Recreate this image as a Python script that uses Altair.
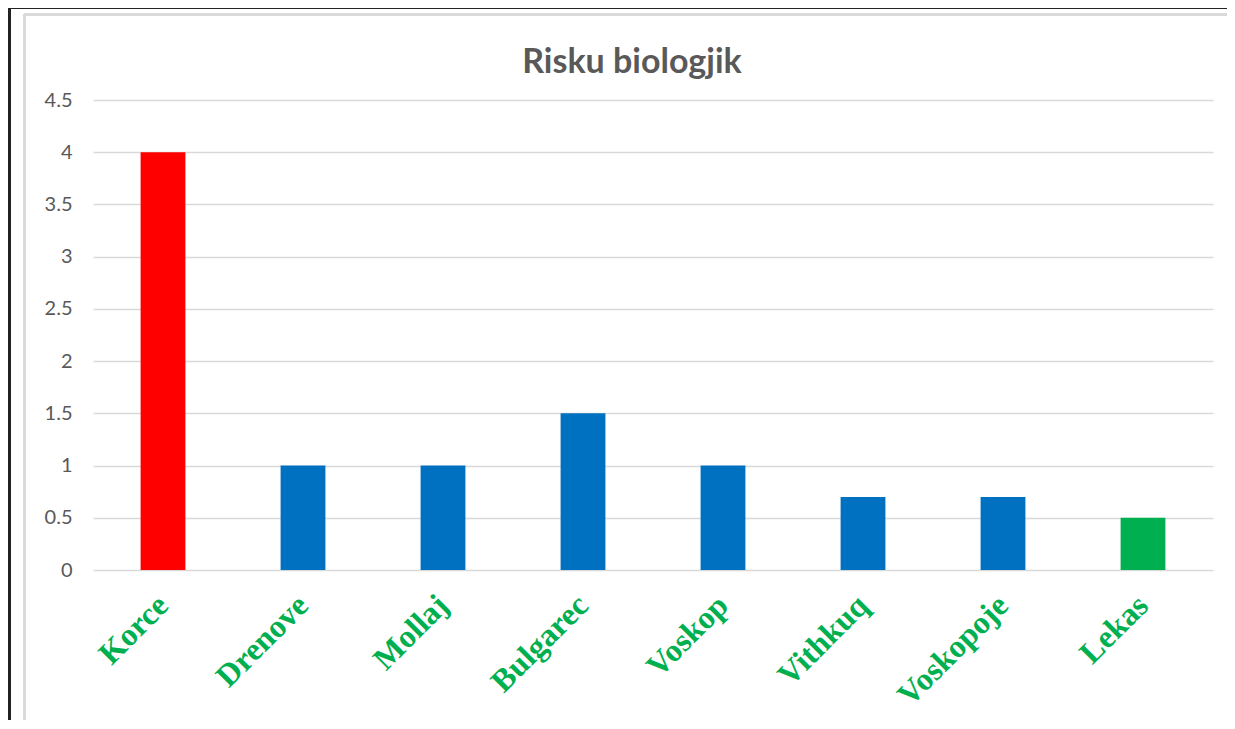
import altair as alt
import pandas as pd

categories = ["Korce", "Drenove", "Mollaj", "Bulgarec", "Voskop", "Vithkuq", "Voskopoje", "Lekas"]
values = [4.0, 1.0, 1.0, 1.5, 1.0, 0.7, 0.7, 0.5]
bar_colors = ["#FF0000", "#0070C0", "#0070C0", "#0070C0", "#0070C0", "#0070C0", "#0070C0", "#00B050"]
y_ticks = [0, 0.5, 1, 1.5, 2, 2.5, 3, 3.5, 4, 4.5]
chart_title = "Risku biologjik"

df = pd.DataFrame({"cat": categories, "val": values, "col": bar_colors})

W, H = 1120, 470

bars = alt.Chart(df).mark_bar().encode(
    x=alt.X("cat:N", sort=categories, title=None,
            scale=alt.Scale(paddingInner=0.68, paddingOuter=0.34),
            axis=alt.Axis(labelAngle=-45, labelAlign="right", labelBaseline="middle",
                          labelPadding=30, labelFont="Liberation Serif", labelFontWeight="bold",
                          labelFontSize=32, labelColor="#00B050", labelLimit=400,
                          ticks=False, domain=False, grid=False)),
    y=alt.Y("val:Q", title=None,
            scale=alt.Scale(domain=[0, 4.5], nice=False),
            axis=alt.Axis(values=y_ticks, format="~g", labelFont="Lato", labelFontSize=20,
                          labelColor="#595959", labelPadding=21, ticks=False, domain=False,
                          grid=True, gridColor="#d9d9d9", gridWidth=1.5)),
    color=alt.Color("col:N", scale=None),
)

title_text = alt.Chart(pd.DataFrame({"t": [chart_title]})).mark_text(
    font="Lato", fontSize=34, fontWeight="bold", color="#595959",
    align="center", baseline="alphabetic"
).encode(text="t:N", x=alt.value(539), y=alt.value(-27))

border_outer_top = alt.Chart(df).mark_rule(color="#222222", strokeWidth=2).encode(
    x=alt.value(-85), x2=alt.value(1150), y=alt.value(-92))
border_outer_left = alt.Chart(df).mark_rule(color="#222222", strokeWidth=2).encode(
    x=alt.value(-83.5), y=alt.value(-93), y2=alt.value(650))
border_inner_top = alt.Chart(df).mark_rule(color="#d9d9d9", strokeWidth=2).encode(
    x=alt.value(-69), x2=alt.value(1150), y=alt.value(-85.5))
border_inner_left = alt.Chart(df).mark_rule(color="#d9d9d9", strokeWidth=2).encode(
    x=alt.value(-68.5), y=alt.value(-86), y2=alt.value(650))

chart = alt.layer(border_outer_top, border_outer_left, border_inner_top, border_inner_left,
                  bars, title_text).properties(
    width=W, height=H,
    autosize=alt.AutoSizeParams(type="none"),
    padding={"left": 85, "top": 92, "right": 14, "bottom": 150},
).configure_view(stroke=None)

chart.save("out.html", embed_options={"renderer": "svg", "actions": False})
